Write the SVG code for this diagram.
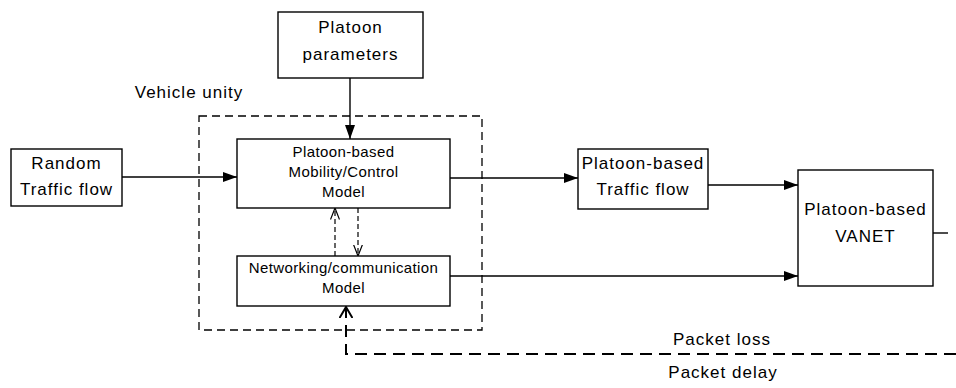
<svg xmlns="http://www.w3.org/2000/svg" width="956" height="388" viewBox="0 0 956 388">
<defs>
<style>
.box{fill:#fff;stroke:#000;stroke-width:1.4}
.t{font-family:"Liberation Sans",Arial,sans-serif;font-size:17px;letter-spacing:1px;fill:#000;text-anchor:middle}
.s{font-family:"Liberation Sans",Arial,sans-serif;font-size:15px;letter-spacing:0.4px;fill:#000;text-anchor:middle}
.ln{fill:none;stroke:#000;stroke-width:1.4}
.dsh{fill:none;stroke:#000;stroke-width:1.2;stroke-dasharray:5 3}
</style>
<marker id="fa" viewBox="0 0 14 10" refX="14" refY="5" markerWidth="14" markerHeight="10" markerUnits="userSpaceOnUse" orient="auto">
<path d="M0,0 L14,5 L0,10 Z" fill="#000"/>
</marker>
<marker id="oa" viewBox="0 0 12 10" refX="11.5" refY="5" markerWidth="12" markerHeight="10" markerUnits="userSpaceOnUse" orient="auto">
<path d="M0,0.5 L11.5,5 L0,9.5" fill="none" stroke="#000" stroke-width="1.2"/>
</marker>
<marker id="ob" viewBox="0 0 12 14" refX="11" refY="7" markerWidth="12" markerHeight="14" markerUnits="userSpaceOnUse" orient="auto">
<path d="M0,0.5 L11,7 L0,13.5" fill="none" stroke="#000" stroke-width="2"/>
</marker>
</defs>
<rect width="956" height="388" fill="#fff"/>

<g id="vehicle-unity">
<rect x="199" y="116" width="283" height="214" fill="none" stroke="#000" stroke-width="1.3" stroke-dasharray="8 5"/>
<text class="t" x="189" y="98">Vehicle unity</text>
</g>

<g id="connectors">
<line class="ln" x1="350" y1="78" x2="350" y2="139" marker-end="url(#fa)"/>
<line class="ln" x1="122" y1="177" x2="237" y2="177" marker-end="url(#fa)"/>
<line class="ln" x1="450" y1="178" x2="578" y2="178" marker-end="url(#fa)"/>
<line class="ln" x1="708" y1="185" x2="798" y2="185" marker-end="url(#fa)"/>
<line class="ln" x1="450" y1="276" x2="798" y2="276" marker-end="url(#fa)"/>
<line class="dsh" x1="335" y1="256" x2="335" y2="208" marker-end="url(#oa)"/>
<line class="dsh" x1="358" y1="208" x2="358" y2="256" marker-end="url(#oa)"/>
<polyline fill="none" stroke="#000" stroke-width="2" stroke-dasharray="12 7" points="956,354 346,354 346,307" marker-end="url(#ob)"/>
<line class="ln" x1="933" y1="233" x2="948" y2="233"/>
</g>

<g id="platoon-parameters">
<rect class="box" x="278" y="12" width="145" height="66"/>
<text class="t" x="350.5" y="33">Platoon</text>
<text class="t" x="350.5" y="60">parameters</text>
</g>

<g id="random-traffic">
<rect class="box" x="11" y="149" width="111" height="57"/>
<text class="t" x="66.5" y="169">Random</text>
<text class="t" x="66.5" y="195">Traffic flow</text>
</g>

<g id="mobility-model">
<rect class="box" x="237" y="139" width="213" height="69"/>
<text class="s" x="343.5" y="157">Platoon-based</text>
<text class="s" x="343.5" y="177">Mobility/Control</text>
<text class="s" x="343.5" y="197">Model</text>
</g>

<g id="networking-model">
<rect class="box" x="237" y="256" width="213" height="50"/>
<text class="s" x="343.5" y="273">Networking/communication</text>
<text class="s" x="343.5" y="293">Model</text>
</g>

<g id="platoon-traffic">
<rect class="box" x="578" y="149" width="130" height="60"/>
<text class="t" x="643" y="169">Platoon-based</text>
<text class="t" x="643" y="195">Traffic flow</text>
</g>

<g id="vanet">
<rect class="box" x="798" y="170" width="135" height="116"/>
<text class="t" x="865.5" y="215">Platoon-based</text>
<text class="t" x="865.5" y="242">VANET</text>
</g>

<g id="feedback-labels">
<text class="t" x="722" y="345">Packet loss</text>
<text class="t" x="723" y="378">Packet delay</text>
</g>
</svg>
